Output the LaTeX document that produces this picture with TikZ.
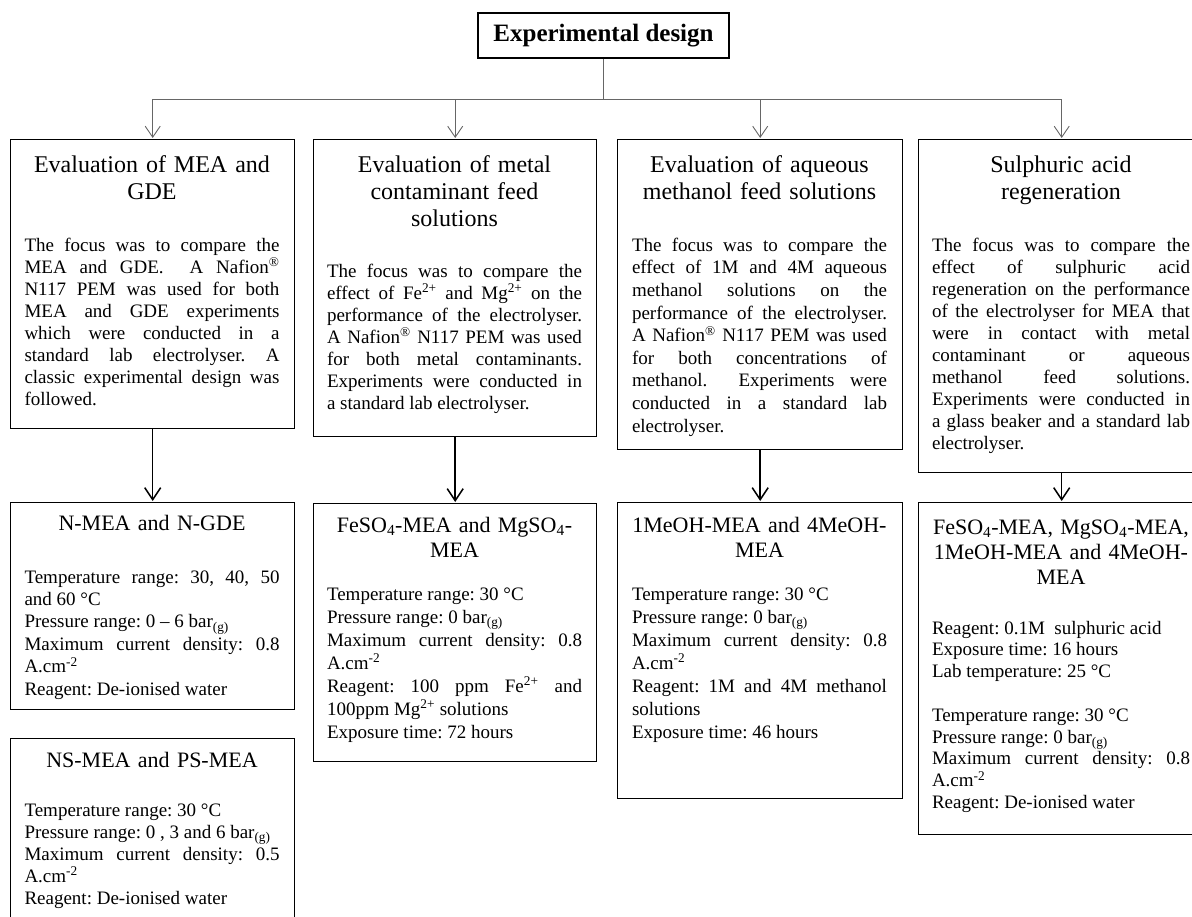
\documentclass[tikz,border=0pt]{standalone}
\usepackage{fontspec}
\setmainfont{Liberation Serif}
\usetikzlibrary{arrows.meta}
\frenchspacing
\begin{document}
\begin{tikzpicture}[x=1pt,y=-1pt,
  bx/.style={draw, line width=1.4pt, inner sep=0pt, anchor=north west},
  hdA/.style={anchor=north, inner sep=0pt, align=center, text width=272pt, font=\fontsize{24}{27}\selectfont},
  hdB/.style={anchor=north, inner sep=0pt, align=center, text width=272pt, font=\fontsize{22}{25}\selectfont},
  bd/.style={anchor=north, inner sep=0pt, align=justify, text width=255pt, font=\fontsize{19}{22}\selectfont},
  topline/.style={draw=black!60, line width=0.9pt},
  toparr/.style={topline, shorten >=1pt, -{Straight Barb[length=11pt,width=15pt]}},
  midarr/.style={line width=1.5pt, shorten >=1pt, -{Straight Barb[length=12pt,width=16pt]}}]
\useasboundingbox (0,0) rectangle (1192,917);

% title
\node[draw, line width=1.4pt, minimum width=251pt, minimum height=45pt, inner sep=0pt,
      font=\fontsize{25}{28}\selectfont\bfseries] (title) at (603.5,35.5) {Experimental design};

% level 1 boxes
\node[bx, minimum width=284pt, minimum height=289pt] (b1) at (10,139) {};
\node[bx, minimum width=283pt, minimum height=297pt] (b2) at (313,139) {};
\node[bx, minimum width=285pt, minimum height=310pt] (b3) at (617,139) {};
\node[bx, minimum width=286pt, minimum height=333pt] (b4) at (918,139) {};

% level 2 boxes
\node[bx, minimum width=284pt, minimum height=207pt] (c1) at (10,502) {};
\node[bx, minimum width=284pt, minimum height=200pt] (d1) at (10,738) {};
\node[bx, minimum width=283pt, minimum height=258pt] (c2) at (313,503) {};
\node[bx, minimum width=285pt, minimum height=296pt] (c3) at (617,502) {};
\node[bx, minimum width=286pt, minimum height=332pt] (c4) at (918,502) {};

% connectors
\coordinate (hub) at (603.5,99);
\draw[topline] (title.south) -- (hub);
\foreach \b in {b1,b2,b3,b4} \draw[toparr] (hub) -| (\b.north);
\draw[midarr] (b1.south) -- (c1.north);
\draw[midarr] (b2.south) -- (c2.north);
\draw[midarr] (b3.south) -- (c3.north);
\draw[midarr] (b4.south) -- (c4.north);

% ---- level 1 texts
\node[hdA] (b1h) at (152,153.1) {\strut Evaluation of MEA and\\GDE};
\node[bd] (b1t) at (152,235.6) {\noindent\strut The focus was to compare the\linebreak
MEA and GDE.\ \ A Nafion\textsuperscript{\textregistered}\linebreak
N117 PEM was used for both\linebreak
MEA and GDE experiments\linebreak
which were conducted in a\linebreak
standard lab electrolyser. A\linebreak
classic experimental design was\linebreak
followed.};

\node[hdA] (b2h) at (454.5,153.1) {\strut Evaluation of metal\\contaminant feed\\solutions};
\node[bd] (b2t) at (454.5,261.6) {\noindent\strut The focus was to compare the\linebreak
effect of Fe\textsuperscript{2+} and Mg\textsuperscript{2+} on the\linebreak
performance of the electrolyser.\linebreak
A Nafion\textsuperscript{\textregistered} N117 PEM was used\linebreak
for both metal contaminants.\linebreak
Experiments were conducted in\linebreak
a standard lab electrolyser.};

\node[hdA] (b3h) at (759.5,153.1) {\strut Evaluation of aqueous\\methanol feed solutions};
\node[bd, font=\fontsize{19}{22.6}\selectfont] (b3t) at (759.5,235.2) {\noindent\strut The focus was to compare the\linebreak
effect of 1M and 4M aqueous\linebreak
methanol solutions on the\linebreak
performance of the electrolyser.\linebreak
A Nafion\textsuperscript{\textregistered} N117 PEM was used\linebreak
for both concentrations of\linebreak
methanol.\ \ Experiments were\linebreak
conducted in a standard lab\linebreak
electrolyser.};

\node[hdA] (b4h) at (1061,153.1) {\strut Sulphuric acid\\regeneration};
\node[bd, text width=258pt] (b4t) at (1061,235.6) {\noindent\strut The focus was to compare the\linebreak
effect of sulphuric acid\linebreak
regeneration on the performance\linebreak
of the electrolyser for MEA that\linebreak
were in contact with metal\linebreak
contaminant or aqueous\linebreak
methanol feed solutions.\linebreak
Experiments were conducted in\linebreak
a glass beaker and a standard lab\linebreak
electrolyser.};

% ---- level 2 texts
\node[hdB] (c1h) at (152,512.5) {\strut N-MEA and N-GDE};
\node[bd, font=\fontsize{19}{22.4}\selectfont] (c1t) at (152,567.3) {\noindent\strut Temperature range: 30, 40, 50\linebreak
and 60 °C\newline
Pressure range: 0 – 6 bar\textsubscript{(g)}\newline
Maximum current density: 0.8\linebreak
A.cm\textsuperscript{-2}\newline
Reagent: De-ionised water};

\node[hdB] (d1h) at (152,749.5) {\strut NS-MEA and PS-MEA};
\node[bd] (d1t) at (152,800.6) {\noindent\strut Temperature range: 30 °C\newline
Pressure range: 0 , 3 and 6 bar\textsubscript{(g)}\newline
Maximum current density: 0.5\linebreak
A.cm\textsuperscript{-2}\newline
Reagent: De-ionised water};

\node[hdB] (c2h) at (454.5,514.5) {\strut FeSO\textsubscript{4}-MEA and MgSO\textsubscript{4}-\\MEA};
\node[bd, font=\fontsize{19}{23}\selectfont] (c2t) at (454.5,583.9) {\noindent\strut Temperature range: 30 °C\newline
Pressure range: 0 bar\textsubscript{(g)}\newline
Maximum current density: 0.8\linebreak
A.cm\textsuperscript{-2}\newline
Reagent: 100 ppm Fe\textsuperscript{2+} and\linebreak
100ppm Mg\textsuperscript{2+} solutions\newline
Exposure time: 72 hours};

\node[hdB] (c3h) at (759.5,514.5) {\strut 1MeOH-MEA and 4MeOH-\\MEA};
\node[bd, font=\fontsize{19}{23}\selectfont] (c3t) at (759.5,583.9) {\noindent\strut Temperature range: 30 °C\newline
Pressure range: 0 bar\textsubscript{(g)}\newline
Maximum current density: 0.8\linebreak
A.cm\textsuperscript{-2}\newline
Reagent: 1M and 4M methanol\linebreak
solutions\newline
Exposure time: 46 hours};

\node[hdB] (c4h) at (1061,516.5) {\strut FeSO\textsubscript{4}-MEA, MgSO\textsubscript{4}-MEA,\\1MeOH-MEA and 4MeOH-\\MEA};
\node[bd, text width=258pt, font=\fontsize{19}{21.8}\selectfont] (c4t) at (1061,618.7) {\noindent\strut Reagent: 0.1M\ \ sulphuric acid\newline
Exposure time: 16 hours\newline
Lab temperature: 25 °C\newline
\mbox{}\newline
Temperature range: 30 °C\newline
Pressure range: 0 bar\textsubscript{(g)}\newline
Maximum current density: 0.8\linebreak
A.cm\textsuperscript{-2}\newline
Reagent: De-ionised water};
\end{tikzpicture}
\end{document}
